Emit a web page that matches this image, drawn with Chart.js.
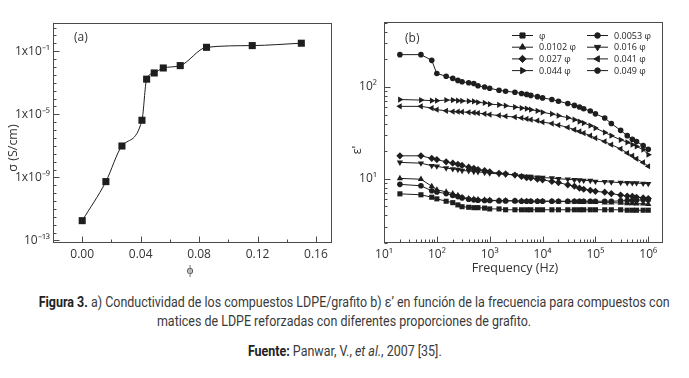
<!DOCTYPE html>
<html>
<head>
<meta charset="utf-8">
<script src="https://cdn.jsdelivr.net/npm/chart.js@4.4.1/dist/chart.umd.min.js"></script>
<style>
  body { margin: 0; width: 689px; height: 378px; background: #fff; position: relative; overflow: hidden; }
  #chartA { position: absolute; left: 0; top: 0; }
  #chartB { position: absolute; left: 345px; top: 0; }
  .cap { position: absolute; left: 0; width: 689px; text-align: center; font-family: Roboto, sans-serif;
         font-size: 14px; line-height: 19px; color: #3a3a3a; white-space: nowrap; }
  .cap span { display: inline-block; transform-origin: 50% 50%; }
  .cap b { color: #222; font-weight: 700; }
</style>
</head>
<body>
<canvas id="chartA" width="345" height="280"></canvas>
<canvas id="chartB" width="344" height="280"></canvas>
<div class="cap" style="top:293px"><span id="capLine1"><b>Figura 3.</b> a) Conductividad de los compuestos LDPE/grafito b) ε’ en función de la frecuencia para compuestos con</span></div>
<div class="cap" style="top:312px"><span>matices de LDPE reforzadas con diferentes proporciones de grafito.</span></div>
<div class="cap" style="top:342px"><span><b>Fuente:</b> Panwar, V., <i>et al.</i>, 2007 [35].</span></div>

<script>
// ---- panel (a): conductivity vs graphite fraction ----
const phiValues   = [0, 0.0162, 0.0272, 0.0409, 0.0441, 0.0493, 0.0555, 0.0671, 0.0851, 0.1164, 0.150];
const sigmaValues = [1.8e-12, 5.4e-10, 9.8e-8, 4.2e-6, 1.7e-3, 4.2e-3, 8.7e-3, 1.23e-2, 0.178, 0.229, 0.324];

const aXTicks = [0, 0.04, 0.08, 0.12, 0.16];
const aXTickLabels = ['0.00', '0.04', '0.08', '0.12', '0.16'];
const aXMinor = [0.02, 0.06, 0.10, 0.14];
const aYTicks = [1e-13, 1e-9, 1e-5, 1e-1];
const aYTickLabels = ['10⁻¹³', '1x10⁻⁹', '1x10⁻⁵', '1x10⁻¹'];

// ---- panel (b): permittivity vs frequency ----
const freqHz = [20, 50, 80, 100, 150, 200, 250, 300, 400, 500, 600, 800,
  1e3, 1.5e3, 2e3, 3e3, 4e3, 5e3, 6e3, 8e3,
  1e4, 1.5e4, 2e4, 3e4, 4e4, 5e4, 6e4, 8e4,
  1e5, 1.5e5, 2e5, 3e5, 4e5, 5e5, 6e5, 8e5, 1e6];

const eps0    = [6.86, 6.7, 6.3, 6.05, 5.7, 5.5, 5.2, 4.97, 4.9, 4.85, 4.85, 4.8, 4.7, 4.7, 4.6, 4.6, 4.6, 4.6, 4.6, 4.6,
                 4.6, 4.6, 4.6, 4.6, 4.6, 4.6, 4.6, 4.6, 4.6, 4.6, 4.6, 4.6, 4.55, 4.55, 4.55, 4.55, 4.55];
const eps0053 = [8.7, 8.4, 7.4, 7.2, 6.9, 6.6, 6.4, 6.2, 6.0, 5.9, 5.85, 5.8, 5.8, 5.75, 5.75, 5.75, 5.7, 5.7, 5.7, 5.7,
                 5.7, 5.7, 5.7, 5.7, 5.7, 5.7, 5.7, 5.7, 5.7, 5.7, 5.7, 5.75, 5.8, 5.8, 5.85, 5.9, 5.9];
const eps0102 = [10.1, 9.9, 8.3, 7.6, 7.2, 6.9, 6.6, 6.3, 6.1, 6.0, 5.95, 5.9, 5.85, 5.8, 5.8, 5.75, 5.75, 5.7, 5.7, 5.7,
                 5.7, 5.7, 5.65, 5.65, 5.65, 5.6, 5.6, 5.6, 5.55, 5.5, 5.5, 5.45, 5.4, 5.4, 5.35, 5.35, 5.3];
const eps016  = [15.1, 14.8, 13.9, 13.7, 13.1, 12.8, 12.6, 12.3, 12.2, 12.0, 11.9, 11.7, 11.5, 11.3, 11.2, 11.0, 10.7, 10.6, 10.6, 10.4,
                 10.3, 10.2, 10.0, 9.9, 9.75, 9.7, 9.6, 9.55, 9.35, 9.3, 9.2, 9.1, 9.05, 9.0, 9.0, 8.9, 8.85];
const eps027  = [17.8, 17.8, 16.7, 16.2, 15.3, 14.8, 14.4, 14.0, 13.4, 13.0, 12.6, 12.3, 11.9, 11.5, 11.3, 11.0, 10.6, 10.3, 10.2, 9.9,
                 9.75, 9.35, 9.1, 8.6, 8.3, 7.9, 7.7, 7.5, 7.3, 7.15, 6.9, 6.65, 6.5, 6.45, 6.3, 6.2, 6.1];
const eps041  = [61.5, 61.5, 59, 56.6, 55, 54, 53.8, 53.5, 53, 52.5, 52, 51, 50, 49, 48, 47, 46, 45, 44, 43,
                 41.5, 40, 38.5, 36.3, 34.3, 32.8, 31.5, 29.5, 27.8, 25.5, 23.5, 21.2, 19.1, 17.8, 16.5, 15.1, 13.7];
const eps044  = [73, 72, 71, 71, 72, 72, 71, 70.5, 70, 69.5, 68, 67, 65, 64, 62.5, 60.5, 59, 58, 56.6, 55,
                 53, 50.8, 48.7, 46.3, 44, 42, 40.5, 38, 35.7, 32, 29.5, 26.6, 25, 23.5, 22.5, 20.8, 18.3];
const eps049  = [225, 225, 195, 140, 131, 124, 118, 114, 111, 109, 103, 100, 97, 92, 90, 87.5, 85, 83, 81, 78.5,
                 76, 73, 70, 66, 63, 60.5, 58, 54.7, 51, 46, 40, 33.7, 29.5, 27, 25.5, 23, 21];

const seriesLabels = ['φ', '0.0053 φ', '0.0102 φ', '0.016 φ', '0.027 φ', '0.041 φ', '0.044 φ', '0.049 φ'];
const seriesValues = [eps0, eps0053, eps0102, eps016, eps027, eps041, eps044, eps049];
const seriesMarks  = [['rect', 0], ['circle', 0], ['triangle', 0], ['triangle', 180],
                      ['rectRot', 0], ['triangle', 270], ['triangle', 90], ['circle', 0]];

const bXTicks = [10, 100, 1e3, 1e4, 1e5, 1e6];
const bXTickLabels = ['10¹', '10²', '10³', '10⁴', '10⁵', '10⁶'];
const bYTicks = [10, 100];
const bYTickLabels = ['10¹', '10²'];

const INK = '#1e1e1e';
const AXIS = '#4a4a4a';
Chart.defaults.font.family = '"Open Sans", sans-serif';
Chart.defaults.color = '#333';

// minor tick positions
const aYMinor = [];
for (let k = -26; k <= 1; k++) aYMinor.push(Math.pow(10, k / 2));
const logMinor = (lo, hi) => {
  const out = [];
  for (let e = lo; e < hi; e++) for (let m = 2; m <= 9; m++) out.push(m * Math.pow(10, e));
  return out;
};
const bXMinor = logMinor(1, 6);
const bYMinor = logMinor(0, 3);

function setTicks(scale, major, minor) {
  const lo = scale.min, hi = scale.max;
  const t = major.map(v => ({ value: v, major: true }))
    .concat(minor.filter(v => major.indexOf(v) < 0).map(v => ({ value: v, major: false })))
    .filter(o => o.value >= lo * 0.9999 && o.value <= hi)
    .sort((a, b) => a.value - b.value);
  scale.ticks = t;
}
const labelFrom = (vals, labels) => v => {
  const i = vals.indexOf(v);
  return i >= 0 ? labels[i] : '';
};

function drawMark(ctx, style, rot, r, x, y) {
  if (Chart.helpers && Chart.helpers.drawPoint) {
    Chart.helpers.drawPoint(ctx, { pointStyle: style, rotation: rot, radius: r, borderWidth: 1 }, x, y);
  } else {
    ctx.beginPath(); ctx.arc(x, y, r * 0.8, 0, Math.PI * 2); ctx.fill();
  }
}

// box, inward ticks, panel tag, axis titles, in-plot legend
const framePlugin = {
  id: 'frame',
  afterDraw(chart, args, o) {
    const { ctx, chartArea: a } = chart;
    ctx.save();
    ctx.strokeStyle = AXIS;
    ctx.lineWidth = 1;
    const L = Math.round(a.left) + 0.5, T = Math.round(a.top) + 0.5;
    const R = Math.round(a.right) - 0.5, B = Math.round(a.bottom) - 0.5;
    ctx.strokeRect(L, T, R - L, B - T);
    ['x', 'y'].forEach(id => {
      const s = chart.scales[id];
      s.ticks.forEach(t => {
        const len = t.major ? 6 : 3;
        const p = Math.round(s.getPixelForValue(t.value)) + 0.5;
        ctx.beginPath();
        if (id === 'x') { ctx.moveTo(p, B); ctx.lineTo(p, B - len); }
        else { ctx.moveTo(L, p); ctx.lineTo(L + len, p); }
        ctx.stroke();
      });
    });

    ctx.fillStyle = '#333';
    ctx.textBaseline = 'middle';
    ctx.font = '12px "Open Sans"';
    ctx.textAlign = 'left';
    ctx.fillText(o.tag, o.tagX, o.tagY);

    ctx.font = '12.5px "Open Sans"';
    ctx.textAlign = 'center';
    ctx.fillText(o.xTitle, o.xTitleX, o.xTitleY);
    ctx.save();
    ctx.translate(o.yTitleX, o.yTitleY);
    ctx.rotate(-Math.PI / 2);
    ctx.fillText(o.yTitle, 0, 0);
    ctx.restore();

    if (o.legend) {
      ctx.font = '9px "Open Sans"';
      ctx.textAlign = 'left';
      ctx.fillStyle = INK;
      ctx.strokeStyle = INK;
      chart.data.datasets.forEach((ds, i) => {
        const col = i % 2, row = Math.floor(i / 2);
        const x0 = o.legend.cols[col], y = o.legend.top + row * o.legend.rowGap;
        ctx.beginPath();
        ctx.moveTo(x0, y + 0.5); ctx.lineTo(x0 + 21, y + 0.5);
        ctx.stroke();
        drawMark(ctx, ds.pointStyle, ds.pointRotation, ds.pointRadius, x0 + 10.5, y + 0.5);
        ctx.fillText(ds.label, x0 + 27, y + 1);
      });
    }
    ctx.restore();
  }
};

// ---- chart (a) ----
new Chart(document.getElementById('chartA'), {
  type: 'line',
  data: {
    datasets: [{
      data: phiValues.map((p, i) => ({ x: p, y: sigmaValues[i] })),
      borderColor: INK,
      backgroundColor: INK,
      borderWidth: 1,
      pointStyle: 'rect',
      pointRadius: 5,
      pointBorderWidth: 0,
      cubicInterpolationMode: 'monotone'
    }]
  },
  options: {
    responsive: false,
    animation: false,
    devicePixelRatio: 1,
    layout: { padding: { top: 23, right: 13, left: 0, bottom: 0 } },
    plugins: {
      legend: { display: false },
      tooltip: { enabled: false },
      frame: { tag: '(a)', tagX: 74, tagY: 38, xTitle: 'ϕ', xTitleX: 190, xTitleY: 270,
               yTitle: 'σ (S/cm)', yTitleX: 13, yTitleY: 148 }
    },
    scales: {
      x: {
        type: 'linear', min: -0.02, max: 0.171,
        grid: { display: false, drawTicks: false }, border: { display: false },
        ticks: { autoSkip: false, maxRotation: 0, padding: 4, font: { size: 12 },
                 callback: labelFrom(aXTicks, aXTickLabels) },
        afterBuildTicks: s => setTicks(s, aXTicks, aXMinor),
        afterFit: s => { s.height = 37; }
      },
      y: {
        type: 'logarithmic', min: 6.9e-14, max: 6.2,
        grid: { display: false, drawTicks: false }, border: { display: false },
        ticks: { autoSkip: false, padding: 3, font: { size: 12 },
                 callback: labelFrom(aYTicks, aYTickLabels) },
        afterBuildTicks: s => setTicks(s, aYTicks, aYMinor),
        afterFit: s => { s.width = 53; }
      }
    }
  },
  plugins: [framePlugin]
});

// ---- chart (b) ----
new Chart(document.getElementById('chartB'), {
  type: 'line',
  data: {
    datasets: seriesValues.map((vals, i) => ({
      label: seriesLabels[i],
      data: freqHz.map((f, j) => ({ x: f, y: vals[j] })),
      borderColor: INK,
      backgroundColor: INK,
      borderWidth: 1,
      pointStyle: seriesMarks[i][0],
      pointRotation: seriesMarks[i][1],
      pointRadius: seriesMarks[i][0] === 'circle' ? 2.8 : 3.6,
      pointBorderWidth: 0
    }))
  },
  options: {
    responsive: false,
    animation: false,
    devicePixelRatio: 1,
    layout: { padding: { top: 22, right: 26, left: 0, bottom: 0 } },
    plugins: {
      legend: { display: false },
      tooltip: { enabled: false },
      frame: { tag: '(b)', tagX: 60, tagY: 39, xTitle: 'Frequency (Hz)', xTitleX: 170, xTitleY: 268,
               yTitle: 'ε\'', yTitleX: 12, yTitleY: 150,
               legend: { cols: [167, 242], top: 35, rowGap: 11.7 } }
    },
    scales: {
      x: {
        type: 'logarithmic', min: 10, max: 1.9e6,
        grid: { display: false, drawTicks: false }, border: { display: false },
        ticks: { autoSkip: false, maxRotation: 0, padding: 4, font: { size: 12 },
                 callback: labelFrom(bXTicks, bXTickLabels) },
        afterBuildTicks: s => setTicks(s, bXTicks, bXMinor),
        afterFit: s => { s.height = 37; }
      },
      y: {
        type: 'logarithmic', min: 2.0, max: 510,
        grid: { display: false, drawTicks: false }, border: { display: false },
        ticks: { autoSkip: false, padding: 7, font: { size: 12 },
                 callback: labelFrom(bYTicks, bYTickLabels) },
        afterBuildTicks: s => setTicks(s, bYTicks, bYMinor),
        afterFit: s => { s.width = 39; }
      }
    }
  },
  plugins: [framePlugin]
});

// squeeze the caption so its first line spans the same width as in the figure
const capWidth = 631;
const squeeze = capWidth / document.getElementById('capLine1').getBoundingClientRect().width;
document.querySelectorAll('.cap span').forEach(s => { s.style.transform = 'scaleX(' + squeeze + ')'; });
</script>
</body>
</html>
